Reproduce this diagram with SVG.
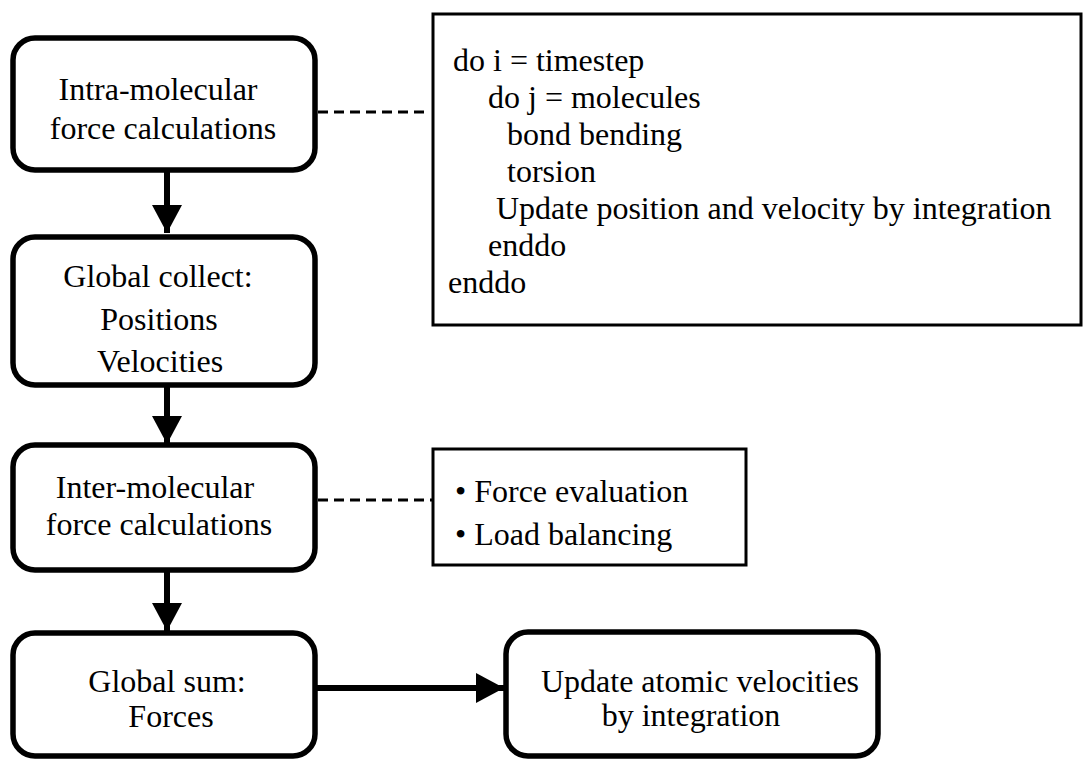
<svg xmlns="http://www.w3.org/2000/svg" width="1087" height="759" viewBox="0 0 1087 759">
<defs>
<style>
.node{fill:#fff;stroke:#000;stroke-width:5.5}
.box{fill:#fff;stroke:#000;stroke-width:3}
.t{font-family:"Liberation Serif","Times New Roman",serif;font-size:32px;fill:#000}
.c{text-anchor:middle}
.shaft{stroke:#000;stroke-width:6;fill:none}
.dash{stroke:#000;stroke-width:3;stroke-dasharray:10 6;fill:none}
</style>
<marker id="ah" markerUnits="userSpaceOnUse" markerWidth="30" markerHeight="30" refX="28" refY="15" orient="auto">
<path d="M0,0 L28,15 L0,30 Z" fill="#000"/>
</marker>
</defs>
<rect width="1087" height="759" fill="#fff"/>
<g id="connectors">
<line class="shaft" x1="167" y1="170" x2="167" y2="233" marker-end="url(#ah)"/>
<line class="shaft" x1="167" y1="385" x2="167" y2="444" marker-end="url(#ah)"/>
<line class="shaft" x1="167" y1="570" x2="167" y2="631" marker-end="url(#ah)"/>
<line class="shaft" x1="316" y1="688" x2="504" y2="688" marker-end="url(#ah)"/>
<line class="dash" x1="318" y1="112" x2="424" y2="112"/>
<line class="dash" x1="318" y1="500" x2="432" y2="500"/>
</g>
<g id="intra">
<rect class="node" x="13" y="38" width="302" height="132" rx="22"/>
<text class="t c" x="158" y="100">Intra-molecular</text>
<text class="t c" x="163" y="139">force calculations</text>
</g>
<g id="collect">
<rect class="node" x="13" y="237" width="302" height="148" rx="22"/>
<text class="t c" x="158" y="287">Global collect:</text>
<text class="t c" x="159" y="330">Positions</text>
<text class="t c" x="160" y="372">Velocities</text>
</g>
<g id="inter">
<rect class="node" x="13" y="445" width="302" height="125" rx="22"/>
<text class="t c" x="155" y="498">Inter-molecular</text>
<text class="t c" x="159" y="535">force calculations</text>
</g>
<g id="sum">
<rect class="node" x="13" y="633" width="302" height="123" rx="22"/>
<text class="t c" x="167" y="692">Global sum:</text>
<text class="t c" x="171" y="727">Forces</text>
</g>
<g id="update">
<rect class="node" x="506" y="632" width="372" height="124" rx="22"/>
<text class="t c" x="700" y="692">Update atomic velocities</text>
<text class="t c" x="691" y="726">by integration</text>
</g>
<g id="code">
<rect class="box" x="433" y="14" width="648" height="311"/>
<text class="t" x="453" y="71">do i = timestep</text>
<text class="t" x="488" y="108">do j = molecules</text>
<text class="t" x="507" y="145">bond bending</text>
<text class="t" x="507" y="182">torsion</text>
<text class="t" x="496" y="219">Update position and velocity by integration</text>
<text class="t" x="488" y="256">enddo</text>
<text class="t" x="448" y="293">enddo</text>
</g>
<g id="notes">
<rect class="box" x="433" y="449" width="313" height="116"/>
<text class="t" x="455" y="502">• Force evaluation</text>
<text class="t" x="455" y="545">• Load balancing</text>
</g>
</svg>
